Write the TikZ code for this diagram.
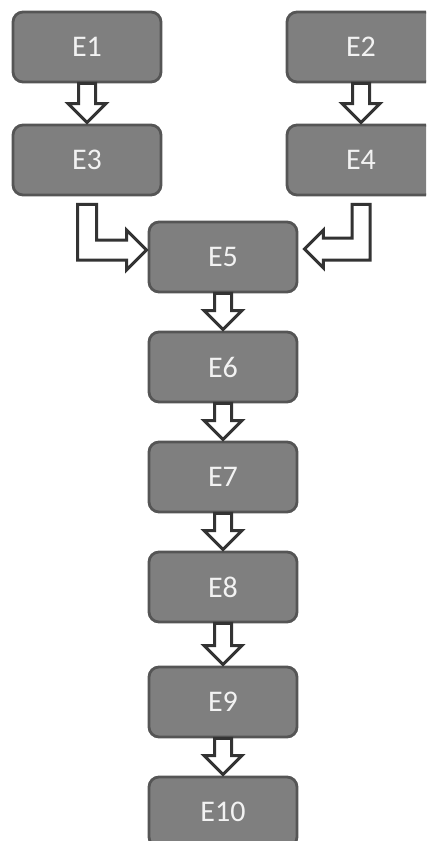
\documentclass[tikz,border=0pt]{standalone}
\usepackage{fontspec}
\setmainfont{Carlito}
\usetikzlibrary{calc}
\definecolor{boxfill}{HTML}{7F7F7F}
\definecolor{boxline}{HTML}{555555}
\definecolor{arrline}{HTML}{333333}
\definecolor{txt}{HTML}{F2F2F2}
\tikzset{
  ebox/.style={rectangle, rounded corners=10pt, minimum width=148pt, minimum height=70pt,
    fill=boxfill, draw=boxline, line width=2.8pt, text=txt, font=\fontsize{30}{34}\selectfont, inner sep=0pt},
  blockarrow/.style={draw=arrline, fill=white, line width=3pt, line join=miter}
}
\newcommand{\dnarrow}[2]{%
  \draw[blockarrow] let \p1=(#1.south), \p2=(#2.north) in
    (\x1-8.5pt,\y1) -- (\x1+8.5pt,\y1) -- (\x1+8.5pt,\y2+20pt) -- (\x1+19pt,\y2+20pt)
    -- (\x1,\y2+1pt) -- (\x1-19pt,\y2+20pt) -- (\x1-8.5pt,\y2+20pt) -- cycle;}
\begin{document}
\begin{tikzpicture}[x=1pt,y=-1pt]
\useasboundingbox (0,0) rectangle (426,841);
\clip (0,0) rectangle (426,841);
\node[ebox] (E1) at (87,47) {E1};
\node[ebox] (E2) at (361,47) {E2};
\node[ebox] (E3) at (87,160) {E3};
\node[ebox] (E4) at (361,160) {E4};
\node[ebox] (E5) at (223,257) {E5};
\node[ebox] (E6) at (223,367) {E6};
\node[ebox] (E7) at (223,477) {E7};
\node[ebox] (E8) at (223,587) {E8};
\node[ebox] (E9) at (223,702) {E9};
\node[ebox] (E10) at (223,812) {E10};
\dnarrow{E1}{E3}
\dnarrow{E2}{E4}
\dnarrow{E5}{E6}
\dnarrow{E6}{E7}
\dnarrow{E7}{E8}
\dnarrow{E8}{E9}
\dnarrow{E9}{E10}
% elbow E3 -> E5
\draw[blockarrow] let \p1=(E3.south), \p2=(E5.west) in
  (\x1-9.5pt,\y1-8pt) -- (\x1+9.5pt,\y1-8pt) -- (\x1+9.5pt,\y2+17pt) -- (\x2-21pt,\y2+17pt)
  -- (\x2-21pt,\y2+27pt) -- (\x2-1pt,\y2+7pt) -- (\x2-21pt,\y2-13pt) -- (\x2-21pt,\y2-3pt)
  -- (\x1-9.5pt,\y2-3pt) -- cycle;
% elbow E4 -> E5
\draw[blockarrow] let \p1=(E4.south), \p2=(E5.east) in
  (\x1-9pt,\y1-8pt) -- (\x1+9pt,\y1-8pt) -- (\x1+9pt,\y2-3pt) -- (\x2+25pt,\y2-3pt)
  -- (\x2+25pt,\y2-11pt) -- (\x2+6pt,\y2+8pt) -- (\x2+25pt,\y2+27pt) -- (\x2+25pt,\y2+19pt)
  -- (\x1-9pt,\y2+19pt) -- cycle;
\end{tikzpicture}
\end{document}
